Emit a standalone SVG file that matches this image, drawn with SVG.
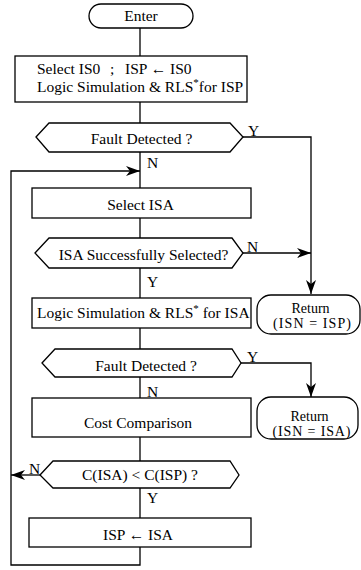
<svg xmlns="http://www.w3.org/2000/svg" width="361" height="570" viewBox="0 0 361 570">
<defs>
<style>
.s{fill:#fff;stroke:#000;stroke-width:1.3}
.c{fill:none;stroke:#000;stroke-width:1.3}
text{font-family:"Liberation Serif","Times New Roman",serif;font-size:15.5px;fill:#000}
.m{text-anchor:middle}
.l{font-size:14px}
</style>
<marker id="ah" viewBox="0 0 14 10" refX="14" refY="5" markerWidth="14" markerHeight="10" markerUnits="userSpaceOnUse" orient="auto">
<path d="M0,0 L14,5 L0,10 L4,5 Z" fill="#000"/>
</marker>
</defs>
<rect width="361" height="570" fill="#fff"/>
<g id="connectors">
<path class="c" d="M140,27 V56"/>
<path class="c" d="M140,102 V123"/>
<path class="c" d="M140,152 V188"/>
<path class="c" d="M140,218 V238"/>
<path class="c" d="M140,268 V298"/>
<path class="c" d="M140,328 V349"/>
<path class="c" d="M140,377 V398"/>
<path class="c" d="M140,437 V461"/>
<path class="c" d="M140,488 V518"/>
<path class="c" d="M140,547 V565 H11 V171 H140" marker-end="url(#ah)"/>
<path class="c" d="M243,137 H311 V294" marker-end="url(#ah)"/>
<path class="c" d="M243,253 H311" marker-end="url(#ah)"/>
<path class="c" d="M241,363 H311 V397" marker-end="url(#ah)"/>
<path class="c" d="M40,475 H11" marker-end="url(#ah)"/>
<text x="248" y="136">Y</text>
<text x="147" y="168">N</text>
<text x="247" y="252">N</text>
<text x="147" y="287">Y</text>
<text x="247" y="362">Y</text>
<text x="147" y="397">N</text>
<text x="29" y="474">N</text>
<text x="147" y="503">Y</text>
</g>
<g id="enter">
<rect class="s" x="89" y="4" width="104" height="24" rx="12"/>
<text class="m" x="141" y="21">Enter</text>
</g>
<g id="init">
<rect class="s" x="15" y="56" width="232" height="46"/>
<text x="37" y="74">Select IS0<tspan x="110">;</tspan><tspan x="125">ISP ← IS0</tspan></text>
<text x="37" y="91.5">Logic Simulation &amp; RLS<tspan dy="-6" font-size="11">*</tspan><tspan dy="6">for ISP</tspan></text>
</g>
<g id="fault1">
<polygon class="s" points="36,137 49,123 230,123 243,137 230,152 49,152"/>
<text class="m" x="141.5" y="143.5">Fault Detected ?</text>
</g>
<g id="selectisa">
<rect class="s" x="32" y="188" width="219" height="30"/>
<text class="m" x="140.5" y="210">Select ISA</text>
</g>
<g id="success">
<polygon class="s" points="35,253 49,238 232,238 243,253 232,268 49,268"/>
<text class="m" x="143.5" y="260">ISA Successfully Selected?</text>
</g>
<g id="sim">
<rect class="s" x="32" y="298" width="219" height="30"/>
<text x="37" y="318">Logic Simulation &amp; RLS<tspan dy="-6" font-size="11">*</tspan><tspan dy="6"> for ISA</tspan></text>
</g>
<g id="fault2">
<polygon class="s" points="42,363 55,349 232,349 241,363 232,377 55,377"/>
<text class="m" x="146" y="371">Fault Detected ?</text>
</g>
<g id="return1">
<rect class="s" x="257" y="295" width="103" height="39" rx="14"/>
<text class="m l" x="310.5" y="313">Return</text>
<text class="m l" x="312" y="328" textLength="78" lengthAdjust="spacing">(ISN = ISP)</text>
</g>
<g id="return2">
<rect class="s" x="257" y="397" width="101" height="42" rx="14"/>
<text class="m l" x="309.5" y="421">Return</text>
<text class="m l" x="311.5" y="436" textLength="78" lengthAdjust="spacing">(ISN = ISA)</text>
</g>
<g id="cost">
<rect class="s" x="32" y="398" width="219" height="39"/>
<text class="m" x="138" y="428">Cost Comparison</text>
</g>
<g id="compare">
<polygon class="s" points="40,475 53,461 230,461 239,475 230,488 53,488"/>
<text class="m" x="140" y="480">C(ISA) &lt; C(ISP) ?</text>
</g>
<g id="update">
<rect class="s" x="29" y="518" width="222" height="29"/>
<text class="m" x="138" y="540">ISP ← ISA</text>
</g>
</svg>
